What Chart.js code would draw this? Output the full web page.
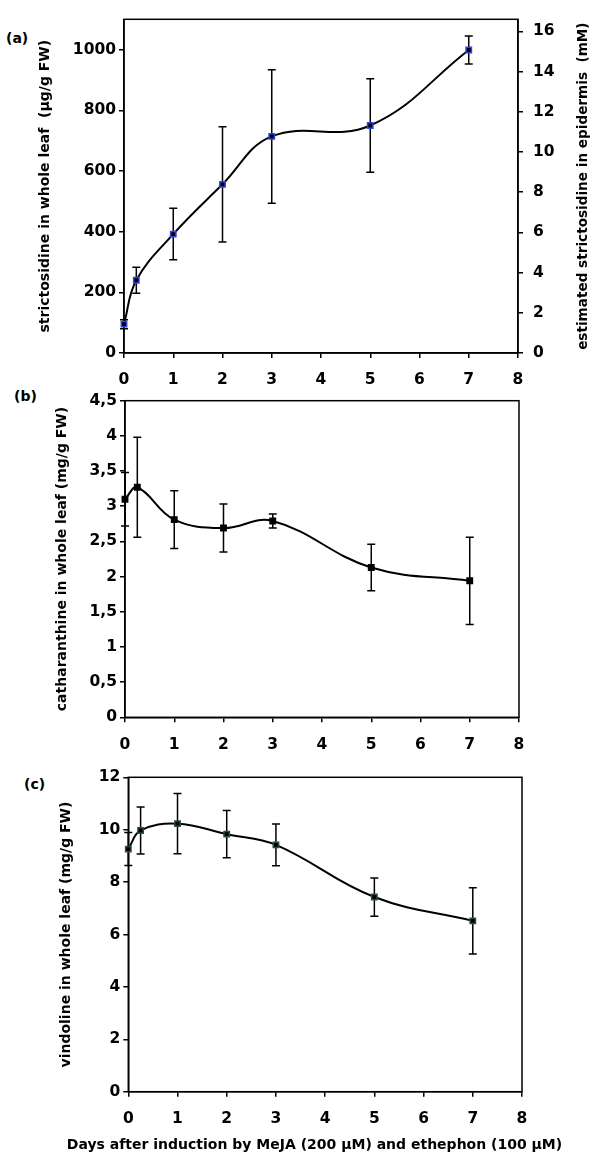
<!DOCTYPE html>
<html>
<head>
<meta charset="utf-8">
<script src="https://cdn.jsdelivr.net/npm/chart.js@4.4.1/dist/chart.umd.min.js"></script>
<style>
  body { margin: 0; background: #fff; width: 600px; height: 1169px; position: relative; overflow: hidden;
         font-family: 'DejaVu Sans', Arial, sans-serif; }
  canvas { position: absolute; left: 0; }
  .lbl { position: absolute; font-weight: bold; font-size: 14px; line-height: 1; color: #000; }
</style>
</head>
<body>
<div class="lbl" style="left:6px;top:31px">(a)</div>
<div class="lbl" style="left:14px;top:389px">(b)</div>
<div class="lbl" style="left:24px;top:777px">(c)</div>
<canvas id="chartA" width="600" height="395" style="top:0"></canvas>
<canvas id="chartB" width="600" height="385" style="top:385px"></canvas>
<canvas id="chartC" width="600" height="404" style="top:765px"></canvas>

<script>
// ── Data ──────────────────────────────────────────────────────────────────────
const days = [0, 0.25, 1, 2, 3, 5, 7];
const xTicks = [0, 1, 2, 3, 4, 5, 6, 7, 8];

const strictosidine    = [95, 240, 392, 556, 714, 750, 999];      // µg/g FW
const strictosidineErr = [15, 43, 85, 190, 220, 154, 46];
const strictosidineTicks = [0, 200, 400, 600, 800, 1000];
const epidermisTicks   = [0, 2, 4, 6, 8, 10, 12, 14, 16];         // mM

const catharanthine    = [3.10, 3.27, 2.81, 2.69, 2.79, 2.13, 1.94]; // mg/g FW
const catharanthineErr = [0.38, 0.71, 0.41, 0.34, 0.10, 0.33, 0.62];
const catharanthineTicks = [0, 0.5, 1, 1.5, 2, 2.5, 3, 3.5, 4, 4.5];

const vindoline        = [9.26, 9.97, 10.23, 9.83, 9.42, 7.43, 6.52]; // mg/g FW
const vindolineErr     = [0.63, 0.90, 1.15, 0.90, 0.80, 0.73, 1.26];
const vindolineTicks   = [0, 2, 4, 6, 8, 10, 12];

// ── Shared bits ───────────────────────────────────────────────────────────────
const FONT = "'DejaVu Sans', Arial, sans-serif";
const tickFont  = { family: FONT, size: 15.5, weight: 'bold' };
const titleFont = { family: FONT, size: 14, weight: 'bold' };

const errorBars = {
  id: 'errorBars',
  beforeDatasetsDraw(chart, args, opts) {
    const { ctx, scales: { x, y } } = chart;
    ctx.save();
    ctx.strokeStyle = '#000';
    ctx.lineWidth = 1.5;
    opts.err.forEach((e, i) => {
      const v   = opts.values[i];
      const px  = x.getPixelForValue(days[i]);
      const top = y.getPixelForValue(v + e);
      const bot = y.getPixelForValue(v - e);
      ctx.beginPath();
      ctx.moveTo(px, top); ctx.lineTo(px, bot);
      ctx.moveTo(px - 4, top); ctx.lineTo(px + 4, top);
      ctx.moveTo(px - 4, bot); ctx.lineTo(px + 4, bot);
      ctx.stroke();
    });
    ctx.restore();
  }
};

const frame = {
  id: 'frame',
  beforeDatasetsDraw(chart) {
    const { ctx, chartArea: a } = chart;
    ctx.save();
    ctx.strokeStyle = '#000';
    ctx.lineWidth = 1.5;
    ctx.strokeRect(a.left, a.top, a.right - a.left, a.bottom - a.top);
    ctx.restore();
  }
};

// titles Chart.js can't place the way the figure does (right one reads bottom-up)
const freeTitles = {
  id: 'freeTitles',
  afterDraw(chart, args, opts) {
    const { ctx, chartArea: a } = chart;
    (opts.items || []).forEach(t => {
      ctx.save();
      ctx.translate(t.x, t.y != null ? t.y : (a.top + a.bottom) / 2);
      if (t.rotate) ctx.rotate(-Math.PI / 2);
      ctx.font = `bold ${t.size}px ${FONT}`;
      ctx.fillStyle = '#000';
      ctx.textAlign = 'center';
      ctx.textBaseline = 'middle';
      ctx.fillText(t.text, 0, 0);
      ctx.restore();
    });
  }
};

const comma = v => String(v).replace('.', ',');

function xAxis(height) {
  return {
    type: 'linear', min: 0, max: 8,
    afterBuildTicks: s => { s.ticks = xTicks.map(v => ({ value: v })); },
    afterFit: s => { s.height = height; },
    ticks: { color: '#000', font: tickFont, padding: 13, maxRotation: 0, autoSkip: false },
    grid: { drawOnChartArea: false, color: '#000', lineWidth: 1.5, tickLength: 5 },
    border: { color: '#000', width: 1.5 }
  };
}

function yAxis(width, min, max, tickVals, title, extra) {
  return Object.assign({
    type: 'linear', min, max, position: 'left',
    afterBuildTicks: s => { s.ticks = tickVals.map(v => ({ value: v })); },
    afterFit: s => { s.width = width; },
    ticks: { color: '#000', font: tickFont, padding: 3, callback: comma },
    grid: { drawOnChartArea: false, color: '#000', lineWidth: 1.5, tickLength: 5 },
    border: { color: '#000', width: 1.5 },
    title: { display: !!title, text: title, color: '#000', font: titleFont }
  }, extra || {});
}

function series(values, border) {
  return {
    data: days.map((d, i) => ({ x: d, y: values[i] })),
    borderColor: '#000', borderWidth: 2, tension: 0.4, clip: false,
    pointStyle: 'rect', pointRadius: 3.8, pointBorderWidth: 1.5,
    pointBackgroundColor: '#000', pointBorderColor: border
  };
}

function makeChart(id, values, err, scales, padding, titles) {
  return new Chart(document.getElementById(id), {
    type: 'line',
    data: { datasets: [series(values.data, values.border)] },
    options: {
      responsive: false, animation: false,
      layout: { padding },
      scales,
      plugins: {
        legend: { display: false }, tooltip: { enabled: false },
        errorBars: { err, values: values.data },
        freeTitles: { items: titles || [] }
      }
    },
    plugins: [frame, errorBars, freeTitles]
  });
}

// ── Charts ────────────────────────────────────────────────────────────────────
makeChart('chartA', { data: strictosidine, border: '#2f45e0' }, strictosidineErr, {
  x: xAxis(42),
  y: yAxis(91, 0, 1100, strictosidineTicks, 'strictosidine in whole leaf  (µg/g FW)'),
  y2: yAxis(77, 0, 16.6, epidermisTicks, '', {
    position: 'right', ticks: { color: '#000', font: tickFont, padding: 10 }
  })
}, { top: 14, left: 33, right: 5, bottom: 0 },
[{ text: 'estimated strictosidine in epidermis  (mM)', x: 583, size: 13.6, rotate: true }]);

makeChart('chartB', { data: catharanthine, border: '#000' }, catharanthineErr, {
  x: xAxis(52.7),
  y: yAxis(75, 0, 4.5, catharanthineTicks, 'catharanthine in whole leaf (mg/g FW)')
}, { top: 15.7, left: 50, right: 81, bottom: 0 });

makeChart('chartC', { data: vindoline, border: '#2e4a4a' }, vindolineErr, {
  x: xAxis(65.7),
  y: yAxis(74.3, 0, 12, vindolineTicks, 'vindoline in whole leaf (mg/g FW)')
}, { top: 10, left: 54, right: 78, bottom: 11.6 },
[{ text: 'Days after induction by MeJA (200 µM) and ethephon (100 µM)', x: 314.5, y: 380, size: 14 }]);
</script>
</body>
</html>
